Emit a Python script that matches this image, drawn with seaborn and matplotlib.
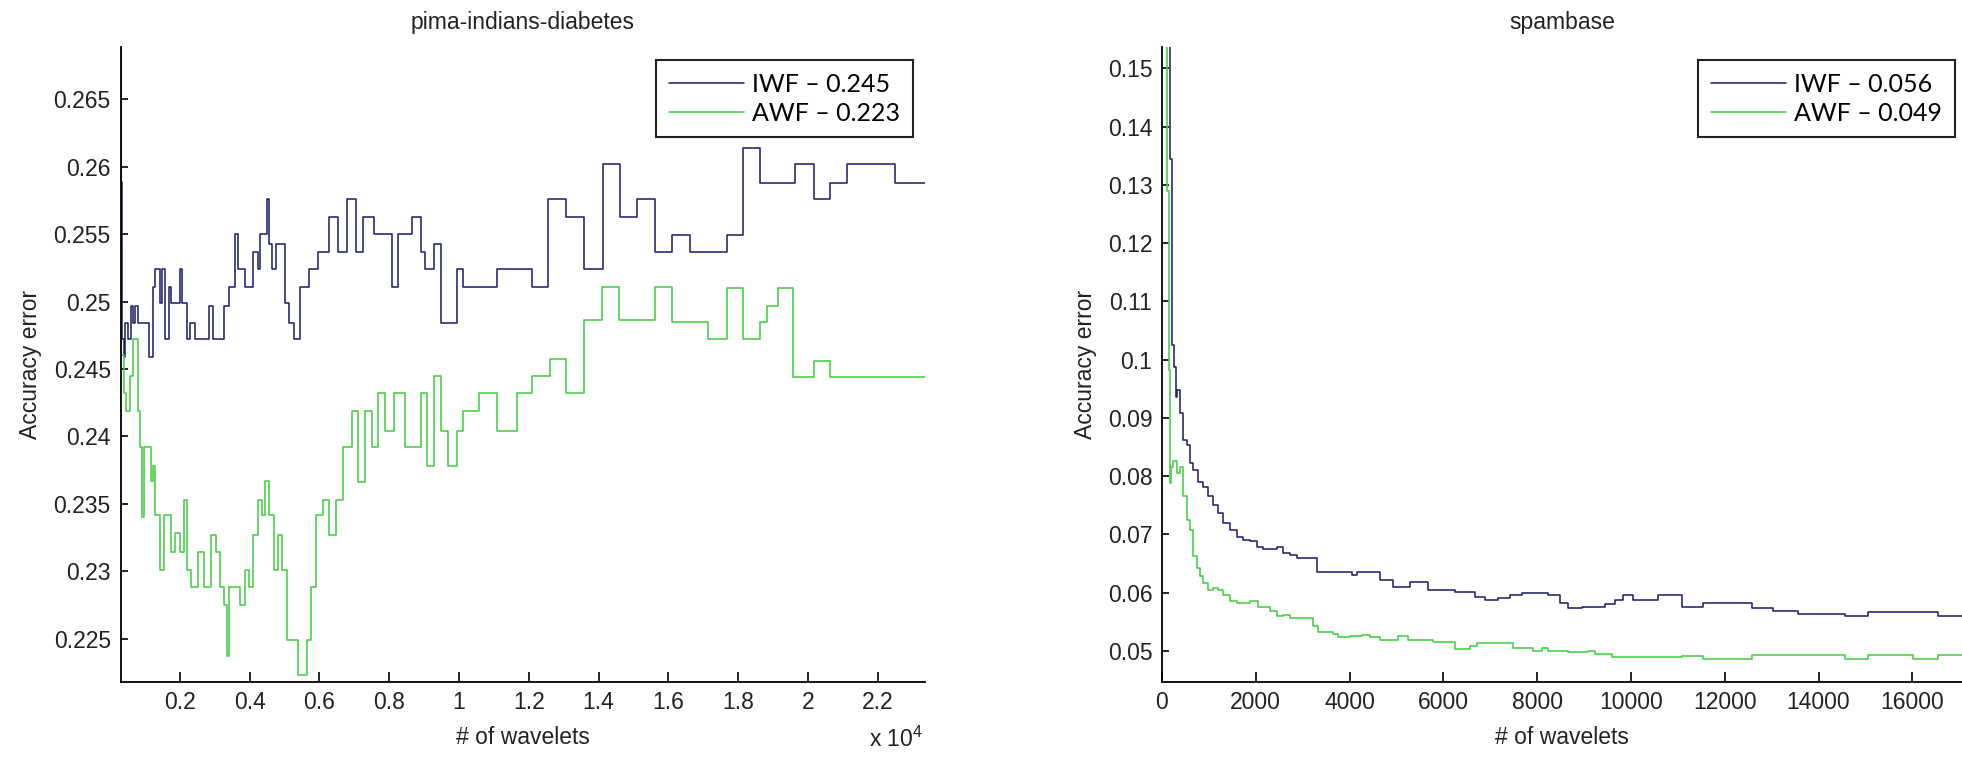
import matplotlib
matplotlib.use("Agg")
import matplotlib.pyplot as plt
import seaborn as sns
import pandas as pd
from matplotlib.ticker import FixedLocator, FuncFormatter

# ---------------- data ----------------
titles = ["pima-indians-diabetes", "spambase"]
series_names = ["IWF", "AWF"]
pima_labels = ["IWF \u2013 0.245", "AWF \u2013 0.223"]
spam_labels = ["IWF \u2013 0.056", "AWF \u2013 0.049"]

pima_iwf_x = [300, 315, 335, 355, 390, 430, 520, 593, 660, 721,
              790, 1105, 1233, 1297, 1425, 1500, 1580, 1680, 1750, 2000,
              2064, 2192, 2294, 2448, 2831, 2959, 3279, 3407, 3573, 3662,
              3854, 4110, 4238, 4302, 4494, 4558, 4647, 4749, 5005, 5133,
              5261, 5453, 5709, 5964, 6284, 6540, 6796, 7051, 7243, 7563,
              8074, 8266, 8650, 8906, 9033, 9289, 9481, 9929, 10120, 11079,
              12103, 12550, 13062, 13573, 14120, 14616, 15090, 15620, 16100, 16620,
              17670, 18150, 18630, 19630, 20160, 20630, 21110, 22500, 23355]
pima_iwf_y = [0.2689, 0.2589, 0.2499, 0.2472, 0.2459, 0.2484, 0.2472, 0.2497, 0.2484, 0.2497,
              0.2484, 0.2459, 0.2511, 0.2524, 0.2499, 0.2524, 0.2472, 0.2511, 0.2499, 0.2524,
              0.2499, 0.2472, 0.2484, 0.2472, 0.2497, 0.2472, 0.2497, 0.2511, 0.2550, 0.2524,
              0.2511, 0.2537, 0.2524, 0.2550, 0.2576, 0.2543, 0.2524, 0.2543, 0.2499, 0.2484,
              0.2472, 0.2511, 0.2524, 0.2537, 0.2563, 0.2537, 0.2576, 0.2537, 0.2563, 0.2550,
              0.2511, 0.2550, 0.2563, 0.2537, 0.2524, 0.2543, 0.2484, 0.2524, 0.2511, 0.2524,
              0.2511, 0.2576, 0.2563, 0.2524, 0.2602, 0.2563, 0.2576, 0.2537, 0.2549, 0.2537,
              0.2549, 0.2614, 0.2588, 0.2602, 0.2576, 0.2588, 0.2602, 0.2588, 0.2588]

pima_awf_x = [300, 320, 400, 465, 560, 657, 811, 870, 913, 960,
              1169, 1230, 1297, 1425, 1552, 1744, 1872, 2000, 2128, 2192,
              2320, 2512, 2703, 2895, 3023, 3151, 3279, 3343, 3407, 3726,
              3854, 3982, 4110, 4238, 4366, 4430, 4558, 4685, 4813, 4941,
              5069, 5389, 5645, 5747, 5900, 6092, 6284, 6476, 6668, 6923,
              7115, 7307, 7499, 7691, 7882, 8138, 8458, 8906, 9097, 9289,
              9481, 9673, 9929, 10120, 10568, 11079, 11655, 12103, 12614, 13062,
              13573, 14085, 14596, 15619, 16100, 17150, 17670, 18150, 18630, 18820,
              19150, 19580, 20160, 20630, 23355]
pima_awf_y = [0.2535, 0.2460, 0.2432, 0.2419, 0.2445, 0.2472, 0.2419, 0.2392, 0.2340, 0.2392,
              0.2367, 0.2378, 0.2342, 0.2301, 0.2342, 0.2314, 0.2328, 0.2314, 0.2353, 0.2301,
              0.2288, 0.2314, 0.2288, 0.2327, 0.2314, 0.2288, 0.2275, 0.2237, 0.2288, 0.2275,
              0.2301, 0.2288, 0.2327, 0.2353, 0.2342, 0.2367, 0.2342, 0.2301, 0.2327, 0.2301,
              0.2249, 0.2223, 0.2249, 0.2288, 0.2342, 0.2353, 0.2327, 0.2353, 0.2392, 0.2419,
              0.2366, 0.2419, 0.2392, 0.2432, 0.2404, 0.2432, 0.2392, 0.2432, 0.2378, 0.2445,
              0.2404, 0.2378, 0.2404, 0.2419, 0.2432, 0.2404, 0.2432, 0.2445, 0.2457, 0.2432,
              0.2486, 0.2511, 0.2486, 0.2511, 0.2485, 0.2472, 0.2510, 0.2472, 0.2485, 0.2497,
              0.2510, 0.2444, 0.2456, 0.2444, 0.2444]

spam_iwf_x = [0, 170, 210, 250, 290, 330, 384, 455, 526, 597,
              668, 775, 881, 988, 1095, 1201, 1308, 1450, 1592, 1734,
              1876, 2018, 2161, 2445, 2587, 2729, 2871, 3297, 4044, 4160,
              4648, 4932, 5287, 5678, 6247, 6673, 6886, 7171, 7420, 7668,
              8237, 8485, 8663, 8948, 9445, 9659, 9836, 10050, 10583, 11081,
              11541, 12572, 13034, 13570, 14561, 15065, 16558, 17060]
spam_iwf_y = [0.160, 0.1345, 0.1025, 0.0988, 0.0936, 0.0948, 0.0908, 0.0862, 0.0854, 0.0822,
              0.0810, 0.0790, 0.0782, 0.0765, 0.0751, 0.0736, 0.0719, 0.0708, 0.0696, 0.0690,
              0.0688, 0.0679, 0.0675, 0.0678, 0.0668, 0.0665, 0.0659, 0.0636, 0.0630, 0.0636,
              0.0622, 0.0610, 0.0618, 0.0605, 0.0601, 0.0593, 0.0588, 0.0590, 0.0595, 0.0599,
              0.0595, 0.0582, 0.0574, 0.0575, 0.0581, 0.0588, 0.0595, 0.0588, 0.0595, 0.0576,
              0.0582, 0.0573, 0.0569, 0.0563, 0.0559, 0.0567, 0.0560, 0.0560]

spam_awf_x = [0, 100, 150, 171, 200, 241, 313, 384, 455, 526,
              597, 668, 739, 810, 881, 988, 1095, 1201, 1308, 1450,
              1592, 1876, 2054, 2303, 2445, 2587, 2729, 3226, 3332, 3652,
              3759, 4008, 4257, 4434, 4648, 5039, 5252, 5785, 6247, 6567,
              6709, 7491, 7917, 8095, 8237, 8663, 9090, 9232, 9587, 11081,
              11541, 12572, 14561, 15065, 16018, 16558, 17060]
spam_awf_y = [0.160, 0.1290, 0.0982, 0.0788, 0.0816, 0.0825, 0.0805, 0.0816, 0.0765, 0.0725,
              0.0708, 0.0662, 0.0642, 0.0628, 0.0616, 0.0605, 0.0608, 0.0605, 0.0596, 0.0585,
              0.0582, 0.0585, 0.0576, 0.0568, 0.0559, 0.0562, 0.0556, 0.0542, 0.0533, 0.0529,
              0.0524, 0.0526, 0.0528, 0.0524, 0.0518, 0.0525, 0.0518, 0.0516, 0.0503, 0.0508,
              0.0513, 0.0504, 0.0499, 0.0504, 0.0499, 0.0498, 0.0499, 0.0495, 0.0490, 0.0491,
              0.0486, 0.0493, 0.0486, 0.0493, 0.0486, 0.0493, 0.0493]

pima_xticks = [2000, 4000, 6000, 8000, 10000, 12000, 14000, 16000, 18000, 20000, 22000]
pima_yticks = [0.225, 0.23, 0.235, 0.24, 0.245, 0.25, 0.255, 0.26, 0.265]
spam_xticks = [0, 2000, 4000, 6000, 8000, 10000, 12000, 14000, 16000]
spam_yticks = [0.05, 0.06, 0.07, 0.08, 0.09, 0.1, 0.11, 0.12, 0.13, 0.14, 0.15]

# ---------------- style ----------------
sns.set_theme(style="white")
plt.rcParams['font.family'] = ['Liberation Sans', 'DejaVu Sans']
plt.rcParams['mathtext.fontset'] = 'custom'
plt.rcParams['mathtext.rm'] = 'Liberation Sans'
plt.rcParams['mathtext.it'] = 'Liberation Sans'

IWF_COLOR = "#22226e"
AWF_COLOR = "#44cf44"
TEXT_COLOR = "#222222"
FS = 16.5

fig = plt.figure(figsize=(19.62, 7.58), dpi=100)
ax1 = fig.add_axes([120.5 / 1962, 1 - 681.7 / 758, (925 - 120.5) / 1962, (681.7 - 46.7) / 758])
ax2 = fig.add_axes([1162 / 1962, 1 - 681.7 / 758, (1962 - 1162) / 1962, (681.7 - 46.7) / 758])

def draw(ax, ix, iy, axx, axy, labels):
    d1 = pd.DataFrame({"x": ix, "y": iy})
    d2 = pd.DataFrame({"x": axx, "y": axy})
    sns.lineplot(data=d1, x="x", y="y", ax=ax, color=IWF_COLOR, linewidth=1.15,
                 drawstyle="steps-post", estimator=None, errorbar=None, label=labels[0])
    sns.lineplot(data=d2, x="x", y="y", ax=ax, color=AWF_COLOR, linewidth=1.15,
                 drawstyle="steps-post", estimator=None, errorbar=None, label=labels[1])

draw(ax1, pima_iwf_x, pima_iwf_y, pima_awf_x, pima_awf_y, pima_labels)
draw(ax2, spam_iwf_x, spam_iwf_y, spam_awf_x, spam_awf_y, spam_labels)

ax1.set_xlim(300, 23355)
ax1.set_ylim(0.2218, 0.2689)
ax2.set_xlim(0, 17060)
ax2.set_ylim(0.0447, 0.1537)

ax1.xaxis.set_major_locator(FixedLocator(pima_xticks))
ax1.xaxis.set_major_formatter(FuncFormatter(lambda v, p: "%g" % (v / 1e4)))
ax1.yaxis.set_major_locator(FixedLocator(pima_yticks))
ax1.yaxis.set_major_formatter(FuncFormatter(lambda v, p: "%g" % round(v, 4)))
ax2.xaxis.set_major_locator(FixedLocator(spam_xticks))
ax2.xaxis.set_major_formatter(FuncFormatter(lambda v, p: "%g" % v))
ax2.yaxis.set_major_locator(FixedLocator(spam_yticks))
ax2.yaxis.set_major_formatter(FuncFormatter(lambda v, p: "%g" % round(v, 4)))

for ax, title in zip([ax1, ax2], titles):
    for s in ["top", "right"]:
        ax.spines[s].set_visible(False)
    for s in ["left", "bottom"]:
        ax.spines[s].set_color("black")
        ax.spines[s].set_linewidth(1.3)
    ax.tick_params(axis="both", which="major", direction="in", bottom=True, left=True,
                   top=False, right=False, width=1.2, color="black",
                   labelsize=FS, labelcolor=TEXT_COLOR, pad=7)
    ax.tick_params(axis="x", length=7)
    ax.tick_params(axis="y", length=5)
    ax.set_title(title, fontsize=FS, color=TEXT_COLOR, pad=13)
    ax.set_xlabel("# of wavelets", fontsize=FS, color=TEXT_COLOR, labelpad=8)
    ax.set_ylabel("Accuracy error", fontsize=FS, color=TEXT_COLOR, labelpad=8)
    ax.grid(False)
    ax.set_facecolor("white")

fig.text(923 / 1962, 1 - 747 / 758, r"x 10$^4$", ha="right", va="baseline",
         fontsize=FS, color=TEXT_COLOR)

def legend(ax, right_px):
    h, l = ax.get_legend_handles_labels()
    leg = ax.legend(h, l, loc="upper right", bbox_to_anchor=(right_px / 1962, 1 - 60 / 758),
                    bbox_transform=fig.transFigure, borderaxespad=0, frameon=True,
                    fancybox=False, framealpha=1, edgecolor="#222222",
                    prop={"family": ["Lato", "DejaVu Sans"], "size": 18},
                    handlelength=3.0, handletextpad=0.35, borderpad=0.5, labelspacing=0.25)
    leg.get_frame().set_linewidth(1.5)
    for t in leg.get_texts():
        t.set_color("black")

legend(ax1, 913)
legend(ax2, 1955)

fig.savefig("out.png", dpi=100, facecolor="white")
